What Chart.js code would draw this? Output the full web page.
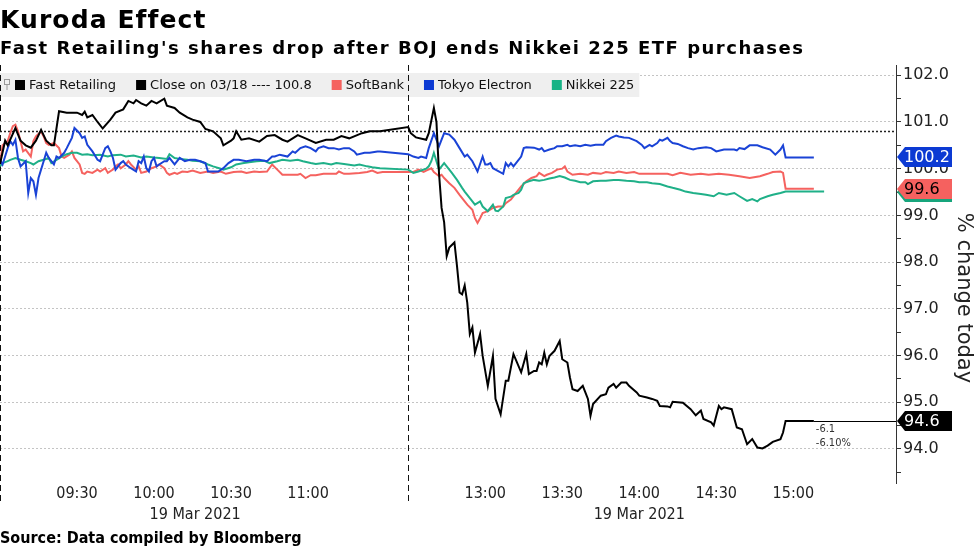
<!DOCTYPE html>
<html>
<head>
<meta charset="utf-8">
<script src="https://cdn.jsdelivr.net/npm/chart.js@4.4.1/dist/chart.umd.min.js"></script>
<style>
  html, body { margin: 0; padding: 0; background: #fff; }
  #wrap { position: relative; width: 977px; height: 549px; overflow: hidden; }
  #chart { position: absolute; left: 0; top: 0; }
  .txt { position: absolute; left: 0; white-space: nowrap; color: #000; }
  #title { top: 7px; font: bold 25px/25px "DejaVu Sans"; letter-spacing: 1.1px; }
  #subtitle { top: 39px; font: bold 18px/18px "DejaVu Sans"; letter-spacing: 1.5px; }
  #source { top: 530px; font: bold 16px/16px "DejaVu Sans Condensed", "DejaVu Sans"; font-stretch: condensed; }
</style>
</head>
<body>
<div id="wrap">
  <canvas id="chart" width="977" height="549"></canvas>
  <div class="txt" id="title">Kuroda Effect</div>
  <div class="txt" id="subtitle">Fast Retailing's shares drop after BOJ ends Nikkei 225 ETF purchases</div>
  <div class="txt" id="source">Source: Data compiled by Bloomberg</div>
</div>
<script>
// ---- data (index level, 100 = previous close) ----
const fastRetailing = [
  ['09:00',100.10],['09:02',100.60],['09:03',100.50],['09:06',100.87],['09:08',100.60],['09:10',100.50],
  ['09:12',100.45],['09:14',100.60],['09:16',100.83],['09:18',100.60],['09:20',100.50],['09:21',100.50],
  ['09:23',101.23],['09:26',101.20],['09:30',101.20],['09:32',101.15],['09:33',101.22],['09:34',101.10],
  ['09:36',101.15],['09:38',101.00],['09:40',100.86],['09:43',101.05],['09:45',101.20],['09:48',101.27],
  ['09:50',101.45],['09:52',101.40],['09:53',101.47],['09:55',101.40],['09:57',101.35],['09:59',101.45],
  ['10:01',101.40],['10:04',101.50],['10:05',101.35],['10:08',101.30],['10:10',101.20],['10:13',101.10],
  ['10:15',101.05],['10:18',101.00],['10:20',100.85],['10:23',100.80],['10:26',100.65],['10:27',100.50],
  ['10:30',100.60],['10:31',100.65],['10:32',100.80],['10:34',100.62],['10:37',100.65],['10:41',100.58],
  ['10:44',100.70],['10:47',100.72],['10:50',100.62],['10:52',100.58],['10:56',100.72],['10:59',100.65],
  ['11:03',100.55],['11:07',100.62],['11:10',100.62],['11:13',100.70],['11:16',100.65],['11:21',100.76],
  ['11:24',100.80],['11:28',100.80],
  ['12:30',100.89],['12:31',100.76],['12:33',100.67],['12:37',100.62],['12:38',100.76],['12:40',101.30],
  ['12:41',101.00],['12:42',99.90],['12:43',99.16],['12:44',98.85],['12:45',98.13],['12:46',98.31],
  ['12:48',98.42],['12:49',97.92],['12:50',97.35],['12:51',97.31],['12:52',97.50],['12:53',97.13],
  ['12:54',96.46],['12:55',96.60],['12:56',96.06],['12:58',96.46],['12:59',95.99],['13:01',95.35],
  ['13:03',95.99],['13:04',95.07],['13:06',94.74],['13:08',95.46],['13:09',95.46],['13:11',96.03],
  ['13:14',95.64],['13:16',96.03],['13:17',95.60],['13:19',95.67],['13:20',95.67],['13:21',95.85],
  ['13:22',95.81],['13:23',96.06],['13:24',95.81],['13:25',95.99],['13:27',96.10],['13:29',96.31],
  ['13:30',95.92],['13:32',95.85],['13:33',95.53],['13:34',95.28],['13:36',95.24],['13:38',95.35],
  ['13:39',95.21],['13:40',95.07],['13:41',94.71],['13:42',94.96],['13:45',95.14],['13:47',95.17],
  ['13:48',95.31],['13:50',95.39],['13:51',95.31],['13:53',95.42],['13:55',95.42],['13:56',95.35],
  ['13:59',95.21],['14:00',95.14],['14:03',95.10],['14:05',95.07],['14:07',95.03],['14:08',94.92],
  ['14:11',94.91],['14:12',94.89],['14:13',95.01],['14:17',94.99],['14:20',94.85],['14:22',94.72],
  ['14:24',94.82],['14:25',94.64],['14:28',94.57],['14:29',94.50],['14:31',94.92],['14:32',94.85],
  ['14:33',94.89],['14:36',94.85],['14:38',94.46],['14:40',94.42],['14:42',94.10],['14:44',94.21],
  ['14:46',94.03],['14:48',94.01],['14:50',94.07],['14:52',94.15],['14:55',94.21],['14:56',94.35],
  ['14:57',94.60],['15:08',94.60]
];
const softBank = [
  ['09:00',100.10],['09:01',100.50],['09:03',100.59],['09:04',100.76],['09:05',100.91],['09:06',100.94],
  ['09:07',100.80],['09:08',100.59],['09:09',100.37],['09:10',100.41],['09:12',100.26],['09:13',100.59],
  ['09:14',100.69],['09:16',100.80],['09:17',100.69],['09:18',100.55],['09:19',100.51],['09:21',100.55],
  ['09:23',100.44],['09:24',100.26],['09:25',100.23],['09:27',100.30],['09:28',100.37],['09:29',100.23],
  ['09:31',100.09],['09:32',99.91],['09:33',99.89],['09:34',99.94],['09:36',99.91],['09:38',99.98],
  ['09:39',99.94],['09:41',100.01],['09:42',99.91],['09:44',99.98],['09:45',100.05],['09:46',100.09],
  ['09:47',100.01],['09:49',100.09],['09:50',100.16],['09:51',100.09],['09:53',99.98],['09:54',100.05],
  ['09:55',99.91],['09:57',99.94],['09:59',100.01],['10:01',100.05],['10:02',100.09],['10:04',100.01],
  ['10:05',99.91],['10:06',99.87],['10:08',99.91],['10:09',99.89],['10:11',99.94],['10:13',99.93],
  ['10:15',99.96],['10:18',99.91],['10:21',99.94],['10:23',99.91],['10:26',99.94],['10:28',99.89],
  ['10:31',99.93],['10:34',99.94],['10:36',99.91],['10:39',99.94],['10:41',99.93],['10:44',99.94],
  ['10:46',100.09],['10:48',99.98],['10:50',99.87],['10:53',99.87],['10:56',99.87],['10:57',99.89],
  ['10:59',99.80],['11:01',99.86],['11:03',99.86],['11:06',99.89],['11:09',99.89],['11:11',99.89],
  ['11:12',99.94],['11:14',99.89],['11:16',99.89],['11:20',99.91],['11:23',99.93],['11:25',99.96],
  ['11:27',99.91],['11:29',99.93],
  ['12:30',99.93],['12:32',99.93],['12:34',99.98],['12:36',99.93],['12:37',99.96],['12:39',100.01],
  ['12:40',99.93],['12:42',99.84],['12:43',99.87],['12:44',99.80],['12:46',99.69],['12:48',99.59],
  ['12:50',99.44],['12:52',99.30],['12:53',99.23],['12:55',99.12],['12:56',98.94],['12:57',98.84],
  ['12:58',98.94],['12:59',99.05],['13:01',99.09],['13:03',99.16],['13:05',99.19],['13:07',99.19],
  ['13:08',99.26],['13:10',99.34],['13:12',99.48],['13:14',99.62],['13:16',99.73],['13:18',99.80],
  ['13:20',99.84],['13:21',99.91],['13:23',99.84],['13:24',99.87],['13:26',99.91],['13:28',99.98],
  ['13:30',100.00],['13:31',100.05],['13:32',99.94],['13:34',99.87],['13:37',99.89],['13:40',99.87],
  ['13:42',99.91],['13:45',99.89],['13:47',99.93],['13:50',99.91],['13:52',99.94],['13:55',99.91],
  ['13:58',99.93],['14:00',99.89],['14:05',99.89],['14:11',99.89],['14:13',99.86],['14:16',99.91],
  ['14:20',99.87],['14:24',99.89],['14:27',99.87],['14:31',99.89],['14:35',99.87],['14:39',99.84],
  ['14:43',99.80],['14:47',99.84],['14:50',99.89],['14:52',99.93],['14:55',99.94],['14:56',99.91],
  ['14:57',99.57],['15:08',99.57]
];
const tokyoElectron = [
  ['09:00',100.19],['09:01',100.09],['09:03',100.44],['09:04',100.59],['09:05',100.51],['09:06',100.62],
  ['09:07',100.23],['09:08',100.05],['09:10',100.16],['09:11',99.48],['09:12',99.80],['09:13',99.73],
  ['09:14',99.44],['09:15',99.80],['09:17',100.16],['09:18',100.34],['09:19',100.23],['09:21',100.09],
  ['09:22',100.26],['09:23',100.23],['09:25',100.34],['09:26',100.44],['09:28',100.66],['09:29',100.87],
  ['09:31',100.76],['09:32',100.66],['09:33',100.69],['09:34',100.51],['09:36',100.37],['09:38',100.19],
  ['09:39',100.16],['09:40',100.30],['09:41',100.44],['09:42',100.48],['09:43',100.37],['09:44',100.23],
  ['09:45',99.98],['09:47',100.12],['09:48',100.16],['09:49',100.09],['09:51',100.01],['09:53',99.94],
  ['09:54',100.16],['09:55',100.12],['09:56',100.26],['09:57',100.01],['09:58',99.94],['09:59',100.16],
  ['10:00',100.23],['10:01',100.05],['10:02',100.09],['10:04',100.16],['10:05',100.16],['10:06',100.23],
  ['10:07',100.16],['10:08',100.09],['10:10',100.23],['10:12',100.16],['10:14',100.19],['10:16',100.19],
  ['10:18',100.16],['10:20',100.12],['10:21',99.94],['10:23',99.94],['10:25',99.94],['10:27',100.01],
  ['10:29',100.12],['10:31',100.19],['10:33',100.19],['10:36',100.16],['10:39',100.19],['10:41',100.19],
  ['10:44',100.16],['10:46',100.26],['10:47',100.26],['10:49',100.30],['10:52',100.26],['10:54',100.37],
  ['10:55',100.34],['10:57',100.44],['10:59',100.48],['11:01',100.44],['11:03',100.37],['11:04',100.44],
  ['11:06',100.48],['11:08',100.44],['11:10',100.44],['11:12',100.41],['11:14',100.44],['11:16',100.44],
  ['11:18',100.37],['11:19',100.30],['11:22',100.34],['11:24',100.34],['11:27',100.37],['11:28',100.37],
  ['12:30',100.31],['12:32',100.26],['12:34',100.23],['12:35',100.26],['12:37',100.23],['12:38',100.44],
  ['12:40',100.76],['12:42',100.48],['12:43',100.62],['12:44',100.76],['12:46',100.73],['12:48',100.62],
  ['12:50',100.44],['12:52',100.26],['12:53',100.30],['12:55',100.16],['12:57',99.94],['12:59',100.26],
  ['13:00',100.09],['13:01',100.09],['13:02',100.12],['13:03',100.01],['13:04',99.98],['13:07',99.89],
  ['13:08',100.12],['13:09',100.05],['13:10',100.12],['13:11',100.05],['13:12',100.12],['13:14',100.26],
  ['13:15',100.44],['13:16',100.46],['13:19',100.45],['13:21',100.41],['13:22',100.44],['13:23',100.37],
  ['13:25',100.41],['13:27',100.44],['13:28',100.48],['13:30',100.48],['13:32',100.51],['13:33',100.48],
  ['13:35',100.50],['13:37',100.48],['13:39',100.51],['13:41',100.49],['13:43',100.51],['13:46',100.51],
  ['13:47',100.59],['13:49',100.66],['13:51',100.71],['13:52',100.69],['13:54',100.67],['13:56',100.66],
  ['13:59',100.59],['14:01',100.51],['14:02',100.44],['14:04',100.51],['14:05',100.48],['14:07',100.55],
  ['14:08',100.62],['14:09',100.60],['14:11',100.66],['14:12',100.59],['14:13',100.55],['14:15',100.53],
  ['14:17',100.48],['14:19',100.44],['14:21',100.41],['14:23',100.44],['14:26',100.46],['14:28',100.44],
  ['14:30',100.37],['14:33',100.41],['14:37',100.41],['14:38',100.39],['14:39',100.44],['14:41',100.42],
  ['14:43',100.50],['14:46',100.50],['14:48',100.46],['14:51',100.41],['14:53',100.30],['14:55',100.41],
  ['14:56',100.50],['14:57',100.24],['15:08',100.24]
];
const nikkei225 = [
  ['09:00',100.05],['09:01',100.12],['09:03',100.16],['09:04',100.19],['09:06',100.23],['09:08',100.19],
  ['09:10',100.16],['09:12',100.12],['09:13',100.09],['09:15',100.16],['09:17',100.19],['09:19',100.23],
  ['09:20',100.12],['09:22',100.19],['09:24',100.26],['09:26',100.31],['09:28',100.34],['09:30',100.34],
  ['09:32',100.30],['09:34',100.31],['09:36',100.29],['09:39',100.30],['09:42',100.26],['09:44',100.29],
  ['09:47',100.30],['09:49',100.26],['09:52',100.28],['09:55',100.24],['09:57',100.26],['10:00',100.24],
  ['10:02',100.23],['10:05',100.21],['10:06',100.31],['10:08',100.23],['10:10',100.21],['10:13',100.19],
  ['10:15',100.17],['10:18',100.16],['10:21',100.09],['10:23',100.05],['10:26',100.00],['10:27',99.98],
  ['10:30',100.03],['10:32',100.09],['10:35',100.12],['10:37',100.14],['10:40',100.16],['10:43',100.17],
  ['10:45',100.12],['10:48',100.16],['10:50',100.19],['10:53',100.17],['10:56',100.19],['10:58',100.16],
  ['11:01',100.12],['11:03',100.10],['11:06',100.12],['11:09',100.09],['11:11',100.12],['11:14',100.10],
  ['11:18',100.07],['11:20',100.09],['11:23',100.05],['11:25',100.03],['11:28',100.01],
  ['12:30',99.98],['12:32',99.91],['12:34',99.94],['12:35',99.96],['12:37',100.00],['12:38',100.05],
  ['12:39',100.16],['12:40',100.34],['12:41',100.16],['12:42',99.98],['12:43',100.05],['12:44',100.12],
  ['12:45',100.05],['12:47',99.91],['12:49',99.76],['12:51',99.59],['12:52',99.51],['12:53',99.44],
  ['12:55',99.30],['12:56',99.23],['12:58',99.30],['12:59',99.19],['13:01',99.09],['13:02',99.16],
  ['13:03',99.23],['13:04',99.10],['13:05',99.09],['13:07',99.19],['13:08',99.37],['13:10',99.40],
  ['13:11',99.44],['13:13',99.48],['13:14',99.55],['13:15',99.69],['13:17',99.73],['13:19',99.76],
  ['13:21',99.74],['13:23',99.76],['13:25',99.79],['13:27',99.81],['13:29',99.84],['13:31',99.81],
  ['13:33',99.76],['13:35',99.74],['13:37',99.71],['13:39',99.71],['13:40',99.67],['13:42',99.73],
  ['13:45',99.74],['13:47',99.74],['13:50',99.76],['13:52',99.76],['13:55',99.74],['13:58',99.73],
  ['14:00',99.71],['14:03',99.71],['14:05',99.69],['14:08',99.67],['14:11',99.62],['14:13',99.59],
  ['14:16',99.55],['14:18',99.51],['14:21',99.48],['14:24',99.46],['14:26',99.44],['14:29',99.41],
  ['14:31',99.48],['14:34',99.44],['14:37',99.48],['14:39',99.41],['14:42',99.31],['14:44',99.35],
  ['14:46',99.30],['14:47',99.35],['14:50',99.41],['14:52',99.44],['14:55',99.48],['14:57',99.51],
  ['15:12',99.51]
];
const prevClose = 100.8;
const frChange = ['-6.1', '-6.10%'];
const xTickTimes = ['09:30', '10:00', '10:30', '11:00', '13:00', '13:30', '14:00', '14:30', '15:00'];
const dateLabel = '19 Mar 2021';
const dateLabelTimes = ['10:16', '14:00'];
const sessionStarts = ['09:00', '12:30'];
const yTicks = [93.5, 94, 94.5, 95, 95.5, 96, 96.5, 97, 97.5, 98, 98.5, 99, 99.5, 100, 100.5, 101, 101.5, 102];

const LUNCH_GAP = 9; // minutes of axis space shown for the lunch break

// minutes since 09:00 with the lunch break squeezed
function toAxis(t) {
  const [h, m] = t.split(':').map(Number);
  const mins = h * 60 + m;
  return mins <= 690 ? mins - 540 : mins - 750 + 150 + LUNCH_GAP;
}

const series = [
  { label: 'Fast Retailing', rows: fastRetailing, color: '#000000', tag: '#000000', tagText: '#ffffff' },
  { label: 'Tokyo Electron', rows: tokyoElectron, color: '#1a43d6', tag: '#0c3ad3', tagText: '#ffffff' },
  { label: 'Nikkei 225', rows: nikkei225, color: '#1fb088', tag: '#17a57c', tagText: '#ffffff' },
  { label: 'SoftBank', rows: softBank, color: '#f5625f', tag: '#f5615f', tagText: '#000000' }
];

const legendItems = [
  { label: 'Fast Retailing', color: '#000000' },
  { label: 'Close on 03/18 ---- ' + prevClose.toFixed(1), color: '#000000' },
  { label: 'SoftBank', color: '#f5625f' },
  { label: 'Tokyo Electron', color: '#0c3ad3' },
  { label: 'Nikkei 225', color: '#17b386' }
];

const xLabels = new Map();
xTickTimes.forEach(t => xLabels.set(toAxis(t), [t]));
dateLabelTimes.forEach(t => {
  const v = toAxis(t);
  xLabels.set(v, [xLabels.has(v) ? xLabels.get(v)[0] : '', dateLabel]);
});

const decor = {
  id: 'decor',
  beforeDatasetsDraw(chart) {
    const { ctx, chartArea: a, scales: { x, y } } = chart;
    ctx.save();
    // previous close line
    const yc = Math.round(y.getPixelForValue(prevClose)) + 0.5;
    ctx.strokeStyle = '#222';
    ctx.lineWidth = 1.5;
    ctx.setLineDash([2, 2]);
    ctx.beginPath(); ctx.moveTo(a.left, yc); ctx.lineTo(a.right, yc); ctx.stroke();

    // legend strip
    ctx.setLineDash([]);
    ctx.font = '13px "DejaVu Sans"';
    const gap = 20;
    let px = 15;
    const ly = 85;
    const widths = legendItems.map(it => ctx.measureText(it.label).width);
    let total = 15;
    widths.forEach((w, i) => { total += 14 + w + (i < widths.length - 1 ? gap : 5); });
    ctx.fillStyle = '#efefef';
    ctx.fillRect(0, 73, total, 24);
    // small pin icon
    ctx.strokeStyle = '#999'; ctx.lineWidth = 1;
    ctx.strokeRect(4.5, 79.5, 5, 5);
    ctx.beginPath(); ctx.moveTo(7, 85); ctx.lineTo(7, 90); ctx.stroke();
    ctx.textBaseline = 'middle';
    legendItems.forEach((it, i) => {
      ctx.fillStyle = it.color;
      ctx.fillRect(px, ly - 5, 10, 10);
      ctx.fillStyle = '#111';
      ctx.fillText(it.label, px + 14, ly + 1);
      px += 14 + widths[i] + gap;
    });

    // session start markers
    ctx.strokeStyle = '#111';
    ctx.lineWidth = 1;
    ctx.setLineDash([6, 4]);
    sessionStarts.forEach(t => {
      const sx = Math.round(x.getPixelForValue(toAxis(t))) + 0.5;
      ctx.beginPath(); ctx.moveTo(sx, a.top); ctx.lineTo(sx, a.bottom + 20); ctx.stroke();
    });
    ctx.restore();
  },
  afterDatasetsDraw(chart) {
    const { ctx, chartArea: a, scales: { x, y } } = chart;
    const last = fastRetailing[fastRetailing.length - 1];
    const ex = x.getPixelForValue(toAxis(last[0]));
    const ey = Math.round(y.getPixelForValue(last[1])) + 0.5;
    ctx.save();
    ctx.strokeStyle = '#000';
    ctx.lineWidth = 1;
    ctx.beginPath(); ctx.moveTo(ex, ey); ctx.lineTo(a.right, ey); ctx.stroke();
    ctx.fillStyle = '#333';
    ctx.font = '11px "DejaVu Sans Condensed", "DejaVu Sans"';
    ctx.textBaseline = 'middle';
    ctx.fillText(frChange[0], ex + 2, ey + 8);
    ctx.fillText(frChange[1], ex + 2, ey + 22);
    ctx.restore();
  },
  afterDraw(chart) {
    const { ctx, chartArea: a, scales: { y } } = chart;
    ctx.save();
    // last value tags on the axis
    const order = [series[2], series[3], series[1], series[0]];
    ctx.font = '16px "DejaVu Sans"';
    ctx.textBaseline = 'middle';
    order.forEach(s => {
      const v = s.rows[s.rows.length - 1][1];
      const cy = Math.round(y.getPixelForValue(v));
      const x0 = a.right + 1;
      ctx.fillStyle = s.tag;
      ctx.beginPath();
      ctx.moveTo(x0, cy);
      ctx.lineTo(x0 + 8, cy - 10);
      ctx.lineTo(952, cy - 10);
      ctx.lineTo(952, cy + 10);
      ctx.lineTo(x0 + 8, cy + 10);
      ctx.closePath();
      ctx.fill();
      ctx.fillStyle = s.tagText;
      ctx.fillText(v.toFixed(1), x0 + 7, cy + 1);
    });
    // axis title
    ctx.translate(963, 298);
    ctx.rotate(Math.PI / 2);
    ctx.font = '21px "DejaVu Sans"';
    ctx.fillStyle = '#222';
    ctx.textAlign = 'center';
    ctx.fillText('% change today', 0, 0);
    ctx.restore();
  }
};

const ctx = document.getElementById('chart').getContext('2d');
new Chart(ctx, {
  type: 'line',
  data: {
    datasets: series.map(s => ({
      label: s.label,
      data: s.rows.map(([t, v]) => ({ x: toAxis(t), y: v })),
      borderColor: s.color,
      borderWidth: 2,
      pointRadius: 0,
      tension: 0,
      fill: false
    }))
  },
  options: {
    responsive: false,
    animation: false,
    layout: { padding: { top: 65, left: 0, right: 0, bottom: 0 } },
    plugins: { legend: { display: false }, tooltip: { enabled: false } },
    scales: {
      x: {
        type: 'linear',
        min: 0,
        max: 349,
        grid: { display: false, drawTicks: false, tickLength: 0 },
        border: { display: false },
        afterBuildTicks: scale => {
          scale.ticks = [...xLabels.keys()].sort((p, q) => p - q).map(v => ({ value: v }));
        },
        afterFit: scale => { scale.height = 66; },
        ticks: {
          autoSkip: false,
          maxRotation: 0,
          minRotation: 0,
          padding: 0,
          color: '#222',
          font: { family: '"DejaVu Sans Condensed", "DejaVu Sans"', size: 16, lineHeight: 1.32 },
          callback: v => xLabels.get(v) || ''
        }
      },
      y: {
        position: 'right',
        min: 93.27,
        max: 102.22,
        afterBuildTicks: scale => { scale.ticks = yTicks.map(v => ({ value: v })); },
        afterFit: scale => { scale.width = 81; },
        grid: {
          color: c => (c.tick && Number.isInteger(c.tick.value)) ? '#c4c4c4' : 'rgba(0,0,0,0)',
          tickColor: '#333',
          tickLength: 5,
          lineWidth: 1
        },
        border: { display: true, color: '#333', width: 1, dash: [2, 2] },
        ticks: {
          padding: 2,
          color: '#222',
          font: { family: '"DejaVu Sans"', size: 16 },
          callback: v => Number.isInteger(v) ? v.toFixed(1) : ''
        }
      }
    }
  },
  plugins: [decor]
});
</script>
</body>
</html>
